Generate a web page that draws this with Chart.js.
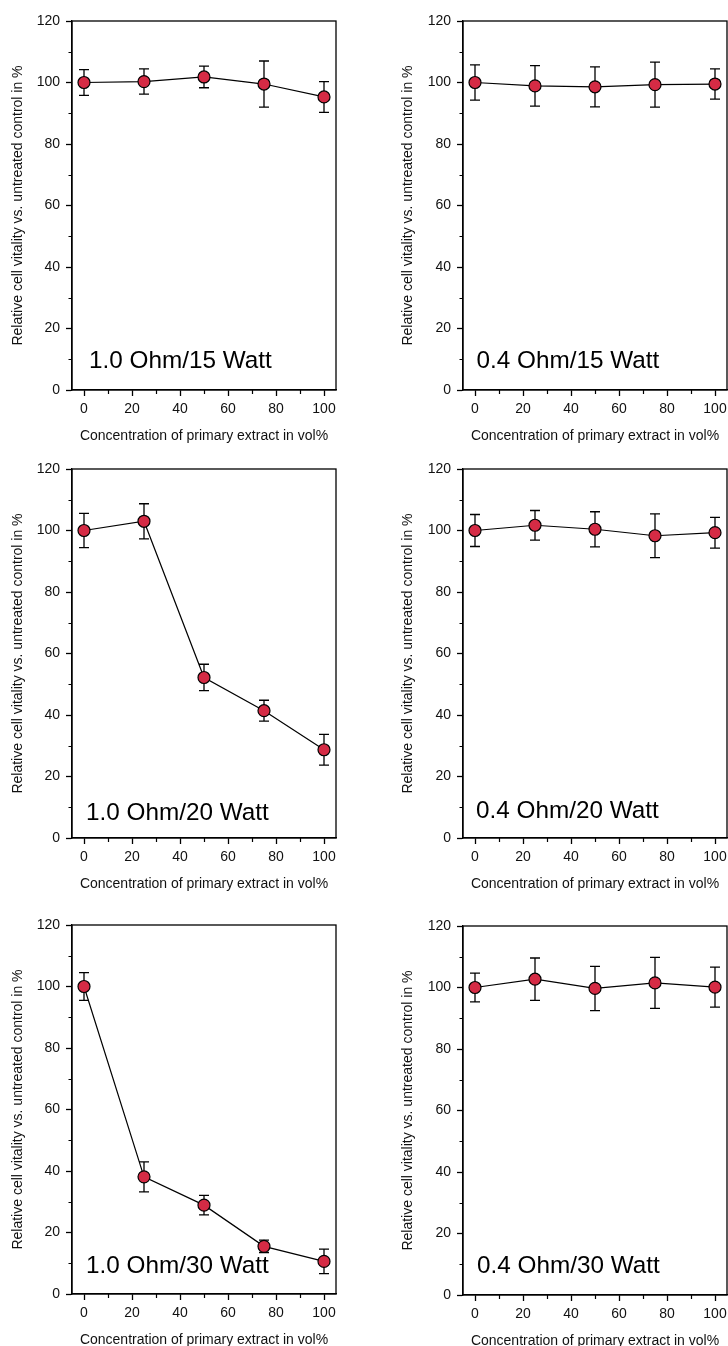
<!DOCTYPE html>
<html>
<head>
<meta charset="utf-8">
<script src="https://cdn.jsdelivr.net/npm/chart.js@4.4.1/dist/chart.umd.min.js"></script>
<style>
  html, body { margin: 0; padding: 0; background: #ffffff; overflow: hidden; width: 728px; height: 1346px; }
  canvas { position: absolute; display: block; }
</style>
</head>
<body>
<canvas id="c1"></canvas>
<canvas id="c2"></canvas>
<canvas id="c3"></canvas>
<canvas id="c4"></canvas>
<canvas id="c5"></canvas>
<canvas id="c6"></canvas>
<script>
// ---------- DATA ----------
const concentrations = [0, 25, 50, 75, 100];

const panelTitles = [
  "1.0 Ohm/15 Watt", "0.4 Ohm/15 Watt",
  "1.0 Ohm/20 Watt", "0.4 Ohm/20 Watt",
  "1.0 Ohm/30 Watt", "0.4 Ohm/30 Watt"
];

const vitality_10_15 = [100, 100.3, 101.8, 99.5, 95.3];
const error_10_15    = [4.2, 4.1, 3.5, 7.5, 5.0];
const vitality_04_15 = [100, 98.9, 98.6, 99.3, 99.5];
const error_04_15    = [5.7, 6.6, 6.5, 7.3, 4.9];
const vitality_10_20 = [100, 103.0, 52.2, 41.4, 28.7];
const error_10_20    = [5.6, 5.7, 4.3, 3.4, 5.0];
const vitality_04_20 = [100, 101.7, 100.4, 98.3, 99.3];
const error_04_20    = [5.2, 4.8, 5.7, 7.1, 5.0];
const vitality_10_30 = [100, 38.1, 28.9, 15.5, 10.6];
const error_10_30    = [4.5, 4.9, 3.2, 2.0, 4.0];
const vitality_04_30 = [100, 102.7, 99.7, 101.5, 100.1];
const error_04_30    = [4.7, 6.9, 7.2, 8.3, 6.5];

const xTickLabels = [0, 20, 40, 60, 80, 100];
const xMinorTicks = [10, 30, 50, 70, 90];
const yTickLabels = [0, 20, 40, 60, 80, 100, 120];
const yMinorTicks = [10, 30, 50, 70, 90, 110];

const xAxisTitle = "Concentration of primary extract in vol%";
const yAxisTitle = "Relative cell vitality vs. untreated control in %";

// ---------- LAYOUT / STYLE ----------
const FONT = "'Liberation Sans', Arial, Helvetica, sans-serif";
const TEXT = "#111111";
const MARKER = "#d52b45";

const panels = [
  { id: "c1", values: vitality_10_15, errors: error_10_15, title: panelTitles[0], left: 0,   top: 10,  width: 340, padRight: 4, yWidth: 72, lab: { dx: 17, dy: 22 } },
  { id: "c2", values: vitality_04_15, errors: error_04_15, title: panelTitles[1], left: 390, top: 10,  width: 338, padRight: 1, yWidth: 73, lab: { dx: 13.5, dy: 22 } },
  { id: "c3", values: vitality_10_20, errors: error_10_20, title: panelTitles[2], left: 0,   top: 458, width: 340, padRight: 4, yWidth: 72, lab: { dx: 14, dy: 18 } },
  { id: "c4", values: vitality_04_20, errors: error_04_20, title: panelTitles[3], left: 390, top: 458, width: 338, padRight: 1, yWidth: 73, lab: { dx: 13, dy: 20 } },
  { id: "c5", values: vitality_10_30, errors: error_10_30, title: panelTitles[4], left: 0,   top: 914, width: 340, padRight: 4, yWidth: 72, lab: { dx: 14, dy: 21 } },
  { id: "c6", values: vitality_04_30, errors: error_04_30, title: panelTitles[5], left: 390, top: 915, width: 338, padRight: 1, yWidth: 73, lab: { dx: 14, dy: 22 } }
];
const CANVAS_H = 438;

// ---------- PLUGINS ----------
const frameAndMinorPlugin = {
  id: "frameAndMinor",
  afterDraw(chart) {
    const { ctx, chartArea: a, scales } = chart;
    ctx.save();
    ctx.strokeStyle = "#000";
    ctx.lineWidth = 1.3;
    ctx.strokeRect(a.left, a.top, a.right - a.left, a.bottom - a.top);
    ctx.lineWidth = 1.2;
    ctx.beginPath();
    yMinorTicks.forEach(v => {
      const y = Math.round(scales.y.getPixelForValue(v)) + 0.5;
      ctx.moveTo(a.left - 3.5, y); ctx.lineTo(a.left, y);
    });
    xMinorTicks.forEach(v => {
      const x = Math.round(scales.x.getPixelForValue(v)) + 0.5;
      ctx.moveTo(x, a.bottom); ctx.lineTo(x, a.bottom + 4);
    });
    ctx.stroke();
    ctx.restore();
  }
};

const errorBarPlugin = {
  id: "errorBars",
  beforeDatasetsDraw(chart) {
    const { ctx, scales } = chart;
    const ds = chart.data.datasets[0];
    const errs = ds.errors || [];
    ctx.save();
    ctx.strokeStyle = "#000";
    ctx.lineWidth = 1.3;
    ctx.beginPath();
    ds.data.forEach((p, i) => {
      const e = errs[i];
      if (e == null) return;
      const x = scales.x.getPixelForValue(p.x);
      const yt = scales.y.getPixelForValue(p.y + e);
      const yb = scales.y.getPixelForValue(p.y - e);
      ctx.moveTo(x, yt); ctx.lineTo(x, yb);
      ctx.moveTo(x - 5, yt); ctx.lineTo(x + 5, yt);
      ctx.moveTo(x - 5, yb); ctx.lineTo(x + 5, yb);
    });
    ctx.stroke();
    ctx.restore();
  }
};

const panelLabelPlugin = {
  id: "panelLabel",
  afterDatasetsDraw(chart, args, opts) {
    if (!opts || !opts.text) return;
    const { ctx, chartArea: a } = chart;
    ctx.save();
    ctx.font = "24.3px " + FONT;
    ctx.fillStyle = "#000";
    ctx.textAlign = "left";
    ctx.textBaseline = "alphabetic";
    ctx.fillText(opts.text, a.left + opts.dx, a.bottom - opts.dy);
    ctx.restore();
  }
};

// ---------- CHARTS ----------
panels.forEach(p => {
  const cv = document.getElementById(p.id);
  cv.width = p.width; cv.height = CANVAS_H;
  cv.style.width = p.width + "px"; cv.style.height = CANVAS_H + "px";
  cv.style.left = p.left + "px"; cv.style.top = p.top + "px";

  new Chart(cv.getContext("2d"), {
    type: "line",
    data: {
      datasets: [{
        data: concentrations.map((c, i) => ({ x: c, y: p.values[i] })),
        errors: p.errors,
        borderColor: "#000",
        borderWidth: 1.2,
        pointRadius: 6,
        pointBorderWidth: 1.2,
        pointBackgroundColor: MARKER,
        pointBorderColor: "#000",
        tension: 0,
        fill: false,
        clip: false
      }]
    },
    options: {
      responsive: false,
      animation: false,
      devicePixelRatio: 1,
      layout: { autoPadding: false, padding: { top: 11, right: p.padRight, left: 0, bottom: 0 } },
      plugins: {
        legend: { display: false },
        tooltip: { enabled: false },
        panelLabel: { text: p.title, dx: p.lab.dx, dy: p.lab.dy }
      },
      scales: {
        x: {
          type: "linear",
          min: -5, max: 105,
          afterBuildTicks: s => { s.ticks = xTickLabels.map(v => ({ value: v })); },
          afterFit: s => { s.height = 58; s.paddingLeft = 0; s.paddingRight = 0; },
          grid: { display: true, drawOnChartArea: false, drawTicks: true, tickLength: 6, tickColor: "#000", tickWidth: 1.3 },
          border: { display: true, color: "#000", width: 1.3 },
          ticks: { color: TEXT, font: { family: FONT, size: 14 }, padding: 5, maxRotation: 0, autoSkip: false },
          title: { display: true, text: xAxisTitle, color: TEXT, font: { family: FONT, size: 14 }, padding: { top: 0, bottom: 3 } }
        },
        y: {
          type: "linear",
          min: 0, max: 120,
          afterBuildTicks: s => { s.ticks = yTickLabels.map(v => ({ value: v })); },
          afterFit: s => { s.width = p.yWidth; s.paddingTop = 0; s.paddingBottom = 0; },
          grid: { display: true, drawOnChartArea: false, drawTicks: true, tickLength: 6, tickColor: "#000", tickWidth: 1.3 },
          border: { display: true, color: "#000", width: 1.3 },
          ticks: { color: TEXT, font: { family: FONT, size: 14 }, padding: 6, autoSkip: false },
          title: { display: true, text: yAxisTitle, color: TEXT, font: { family: FONT, size: 14 }, padding: { top: 10, bottom: 0 } }
        }
      }
    },
    plugins: [errorBarPlugin, frameAndMinorPlugin, panelLabelPlugin]
  });
});
</script>
</body>
</html>
